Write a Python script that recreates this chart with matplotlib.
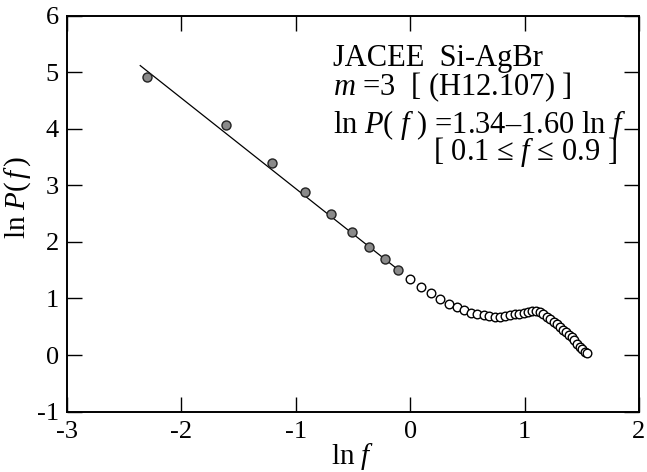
import numpy as np
import matplotlib
matplotlib.use("Agg")
import matplotlib.pyplot as plt

plt.rcParams['font.family'] = ['Liberation Serif', 'DejaVu Serif']
plt.rcParams['mathtext.fontset'] = 'custom'
plt.rcParams['mathtext.rm'] = 'Liberation Serif'
plt.rcParams['mathtext.it'] = 'Liberation Serif:italic'
plt.rcParams['axes.unicode_minus'] = False

# fitted region, 0.1 <= f <= 0.9
f_fit = [0.1, 0.2, 0.3, 0.4, 0.5, 0.6, 0.7, 0.8, 0.9]
lnP_fit = [4.92, 4.06, 3.39, 2.89, 2.49, 2.18, 1.91, 1.69, 1.50]

# remaining points, f >= 1.0
f_rest = [1.0, 1.1, 1.2, 1.3, 1.4, 1.5, 1.6, 1.7, 1.8, 1.9,
          2.0, 2.1, 2.2, 2.3, 2.4, 2.5, 2.6, 2.7, 2.8, 2.9,
          3.0, 3.1, 3.2, 3.3, 3.4, 3.5, 3.6, 3.7, 3.8, 3.9,
          4.0, 4.1, 4.2, 4.3, 4.4, 4.5, 4.6, 4.7]
lnP_rest = [1.34, 1.21, 1.09, 0.99, 0.90, 0.84, 0.79, 0.75, 0.72, 0.70,
            0.69, 0.68, 0.68, 0.69, 0.70, 0.72, 0.73, 0.75, 0.76, 0.77,
            0.77, 0.76, 0.73, 0.68, 0.64, 0.59, 0.54, 0.50, 0.45, 0.40,
            0.36, 0.31, 0.26, 0.20, 0.15, 0.10, 0.06, 0.03]

# fit line ln P = a + b ln f
a, b = 1.34, -1.60
line_x = [-2.36, -0.10]

fig = plt.figure(figsize=(6.47, 4.72), dpi=100)
ax = fig.add_axes([0.1036, 0.128, 0.884, 0.839])

lx = np.array(line_x)
ax.plot(lx, a + b * lx, color='black', lw=0.9, zorder=2)
ax.plot(np.log(f_fit), lnP_fit, 'o', ms=6.5, mfc='#8a8a8a', mec='#222222',
        mew=1.0, zorder=3)
ax.plot(np.log(f_rest), lnP_rest, 'o', ms=6.2, mfc='white', mec='black',
        mew=1.0, zorder=3)

ax.set_xlim(-3, 2)
ax.set_ylim(-1, 6)
ax.set_xticks([-3, -2, -1, 0, 1, 2])
ax.set_yticks([-1, 0, 1, 2, 3, 4, 5, 6])
ax.tick_params(direction='in', length=11, width=1.0, top=True, right=True,
               labelsize=19)
ax.tick_params(axis='x', pad=7)
ax.tick_params(axis='y', pad=6)
for s in ax.spines.values():
    s.set_linewidth(1.4)

ax.set_xlabel(r"ln $f$", fontsize=21, labelpad=-2)
ax.set_ylabel(r"ln $P(\,f\,)$", fontsize=21)
ax.yaxis.set_label_coords(-0.060, 0.54)

fs = 22
ax.text(0.465, 0.872, "JACEE  Si-AgBr", transform=ax.transAxes, fontsize=fs,
        va='baseline')
ax.text(0.465, 0.800, r"$m$ =3  [ (H12.107) ]", transform=ax.transAxes,
        fontsize=fs, va='baseline')
ax.text(0.465, 0.704, r"ln $P$( $f$ ) =1.34–1.60 ln $f$",
        transform=ax.transAxes, fontsize=fs, va='baseline')
ax.text(0.962, 0.635, r"[ 0.1 ≤ $f$ ≤ 0.9 ]", transform=ax.transAxes,
        fontsize=fs, va='baseline', ha='right')

fig.savefig("out.png", dpi=100)
